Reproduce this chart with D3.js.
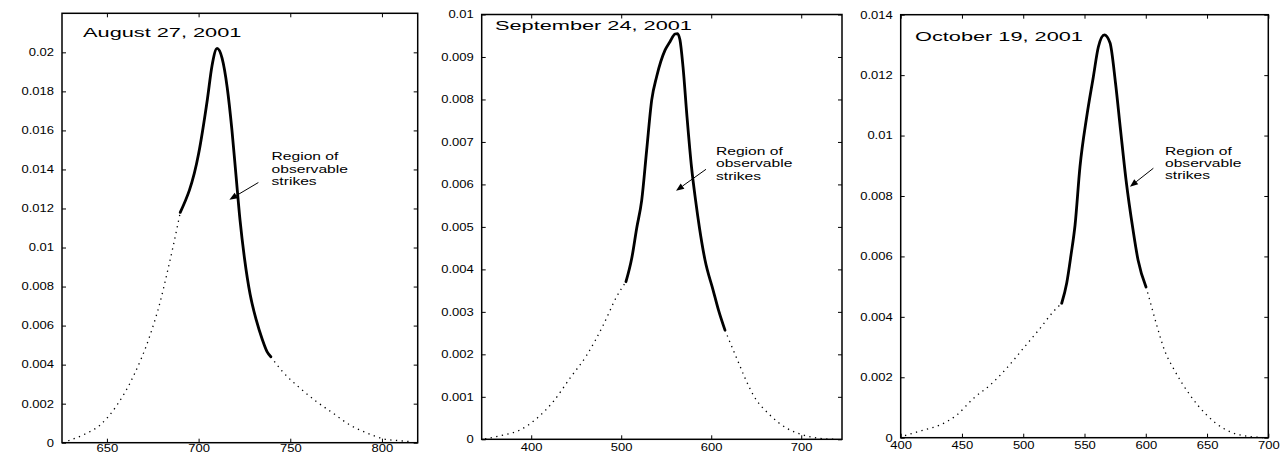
<!DOCTYPE html>
<html><head><meta charset="utf-8">
<script src="https://cdn.jsdelivr.net/npm/d3@7"></script>
<style>body{margin:0;background:#fff}svg{display:block}</style>
</head><body><svg id="c" width="1284" height="455"></svg>
<script>
// ---------- data ----------
const augX=[628.9,637.1,646.2,655.3,664.4,673.5,679.0,682.6,686.2,690.0,700.0,704.8,707.3,710.1,712.8,715.6,718.2,720.4,722.6,725.1,728.1,731.4,734.7,737.4,739.4,746.2,755.3,764.4,773.5,782.6,791.7,800.8,809.9,816.3];
const augY=[0.0001,0.0004,0.0009,0.0019,0.0034,0.0055,0.0072,0.0086,0.0101,0.0118,0.0148,0.0176,0.0193,0.0202,0.0197,0.0182,0.0160,0.0137,0.0114,0.0094,0.0076,0.0063,0.0053,0.00465,0.0044,0.0036,0.0028,0.0021,0.0015,0.0009,0.0005,0.0002,0.0001,0.00005];
const augStrikes=[690,739.4];
const augXTicks=[650,700,750,800];
const augYTicks=[0,0.002,0.004,0.006,0.008,0.01,0.012,0.014,0.016,0.018,0.02];

const sepX=[348.7,369,387.6,406.1,424.6,443.1,461.7,480.1,495,505.3,511.7,517.2,522.8,528.3,533.9,539.4,548.7,554.2,559.8,562.5,565.3,568.7,573.1,578.1,582.6,587,593.1,602,608.1,615.3,619,628.3,637.6,646.8,665.3,683.9,702.4,720.9,737.6];
const sepY=[0.00001,0.0001,0.00022,0.00049,0.00089,0.00144,0.00198,0.00269,0.00336,0.00371,0.00426,0.00497,0.00563,0.00681,0.00799,0.00854,0.00916,0.00936,0.00954,0.00955,0.0094,0.00876,0.00759,0.00641,0.00563,0.00497,0.00422,0.00352,0.00304,0.00257,0.00238,0.00191,0.00144,0.00104,0.00057,0.00026,0.0001,0.00002,0];
const sepStrikes=[505.3,615.3];
const sepXTicks=[400,500,600,700];
const sepYTicks=[0,0.001,0.002,0.003,0.004,0.005,0.006,0.007,0.008,0.009,0.01];

const octX=[403.5,418.4,432.1,445.7,459.3,472.9,486.5,500.1,513.7,524.5,531.4,535.5,539,542.3,546.3,551.8,557.2,561.3,566.2,570.8,575.3,579.4,583.9,589.6,593.7,600.2,602.1,608.9,615.7,622.5,636.1,649.7,663.3,676.9,697.3];
const octY=[0.00007,0.00025,0.00042,0.00075,0.0013,0.00174,0.0023,0.00296,0.00362,0.00417,0.00445,0.00512,0.00605,0.00704,0.00896,0.01062,0.01194,0.01293,0.01333,0.01307,0.01174,0.01019,0.00853,0.00688,0.00588,0.00499,0.00472,0.00373,0.00285,0.0023,0.00141,0.00075,0.00031,0.00009,0];
const octStrikes=[531.4,600.2];
const octXTicks=[400,450,500,550,600,650,700];
const octYTicks=[0,0.002,0.004,0.006,0.008,0.01,0.012,0.014];

const titles=["August 27, 2001","September 24, 2001","October 19, 2001"];
const noteLines=["Region of","observable","strikes"];

// ---------- layout ----------
const FONT='"Liberation Sans", Arial, Helvetica, sans-serif';
const panels=[
 {x:augX,y:augY,solid:augStrikes,xd:[625.5,819.5],yd:[0,0.022],xt:augXTicks,yt:augYTicks,box:[62,417.7,13.3,442.7],pad:1.5,title:titles[0],titlePos:[637,0.0208],note:[739.8,0.01446],arrow:[[732.6,0.01333],[716.8,0.01245]]},
 {x:sepX,y:sepY,solid:sepStrikes,xd:[345,745.3],yd:[0,0.01],xt:sepXTicks,yt:sepYTicks,box:[481.7,842,14.5,439.3],pad:4,title:titles[1],titlePos:[359.8,0.00963],note:[605.3,0.00669],arrow:[[594.2,0.006356],[560.9,0.005852]]},
 {x:octX,y:octY,solid:octStrikes,xd:[400,700],yd:[0,0.014],xt:octXTicks,yt:octYTicks,box:[900.7,1268.3,14.7,437.7],pad:4,title:titles[2],titlePos:[411.7,0.01314],note:[615.7,0.00936],arrow:[[606.2,0.008918],[587.1,0.008309]]}
];
const TICK_SX=1.24, TITLE_SX=1.74, NOTE_SX=1.42;
const fmt=d=>d===0?"0":String(+d.toFixed(4));

const svg=d3.select("#c");
svg.append("rect").attr("width",1284).attr("height",455).attr("fill","#fff");

panels.forEach(p=>{
  const [L,R,T,B]=p.box;
  const xs=d3.scaleLinear().domain(p.xd).range([L,R]);
  const ys=d3.scaleLinear().domain(p.yd).range([B,T]);
  const g=svg.append("g");

  const ax=(gen,tr)=>{
    const a=g.append("g").attr("transform",tr).call(gen);
    a.select(".domain").remove();
    a.selectAll("line").attr("stroke","#000").attr("stroke-width",1);
    a.selectAll("text").attr("font-family",FONT).attr("font-size",10.5).attr("fill","#000");
    return a;
  };
  const left=ax(d3.axisLeft(ys).tickValues(p.yt).tickFormat(fmt).tickSize(-4).tickSizeOuter(0).tickPadding(8),`translate(${L},0)`);
  left.selectAll("text").attr("x",-8/TICK_SX).attr("transform",`scale(${TICK_SX},1)`);
  ax(d3.axisRight(ys).tickValues(p.yt).tickFormat("").tickSize(-4).tickSizeOuter(0),`translate(${R},0)`);
  const bottom=ax(d3.axisBottom(xs).tickValues(p.xt).tickFormat(d3.format("d")).tickSize(-4).tickSizeOuter(0).tickPadding(p.pad),`translate(0,${B})`);
  bottom.selectAll("text").attr("transform",`scale(${TICK_SX},1)`);
  ax(d3.axisTop(xs).tickValues(p.xt).tickFormat("").tickSize(-4).tickSizeOuter(0),`translate(0,${T})`);

  g.append("rect").attr("x",L).attr("y",T).attr("width",R-L).attr("height",B-T)
    .attr("fill","none").attr("stroke","#000").attr("stroke-width",1.5);

  const pts=p.x.map((v,i)=>[v,p.y[i]]);
  const lo=p.solid[0], hi=p.solid[1];
  const leftPts=pts.filter(d=>d[0]<=lo), midPts=pts.filter(d=>d[0]>=lo&&d[0]<=hi), rightPts=pts.filter(d=>d[0]>=hi);
  const line=d3.line().x(d=>xs(d[0])).y(d=>ys(d[1])).curve(d3.curveMonotoneX);
  [leftPts,rightPts].forEach(seg=>{
    g.append("path").attr("d",line(seg)).attr("fill","none").attr("stroke","#000")
      .attr("stroke-width",1.3).attr("stroke-dasharray","1.3,4.4");
  });
  g.append("path").attr("d",line(midPts)).attr("fill","none").attr("stroke","#000")
    .attr("stroke-width",2.8).attr("stroke-linejoin","round").attr("stroke-linecap","round");

  g.append("text").text(p.title).attr("font-family",FONT).attr("font-size",12.5)
    .attr("transform",`translate(${xs(p.titlePos[0])},${ys(p.titlePos[1])}) scale(${TITLE_SX},1)`);

  const nt=g.append("text").attr("font-family",FONT).attr("font-size",11)
    .attr("transform",`translate(${xs(p.note[0])},${ys(p.note[1])}) scale(${NOTE_SX},1)`);
  noteLines.forEach((s,i)=>nt.append("tspan").attr("x",0).attr("y",i*12.3).text(s));

  const [t0,t1]=p.arrow;
  const x0=xs(t0[0]),y0=ys(t0[1]),x1=xs(t1[0]),y1=ys(t1[1]);
  const dx=x1-x0,dy=y1-y0,len=Math.hypot(dx,dy),ux=dx/len,uy=dy/len;
  const hl=8,hw=3.2;
  const bx=x1-ux*hl,by=y1-uy*hl;
  g.append("line").attr("x1",x0).attr("y1",y0).attr("x2",bx).attr("y2",by).attr("stroke","#000").attr("stroke-width",1);
  g.append("path").attr("d",`M${x1},${y1}L${bx-uy*hw},${by+ux*hw}L${bx+uy*hw},${by-ux*hw}Z`).attr("fill","#000");
});
</script></body></html>
